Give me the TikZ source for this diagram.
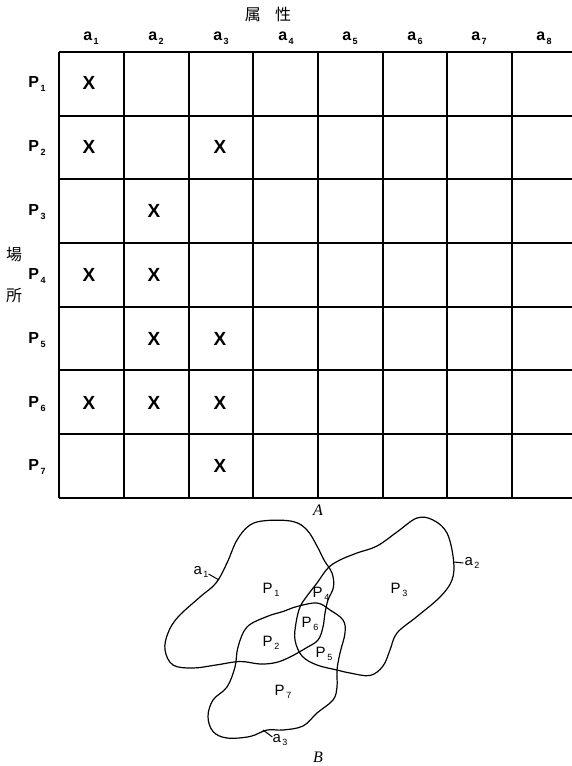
\documentclass[tikz,border=0pt]{standalone}
\usepackage{fontspec}
\setmainfont{Liberation Sans}
\newfontfamily\cjk{Noto Sans CJK JP}
\newfontfamily\serifit{Liberation Serif}
\newcommand\lsub[1]{\kern1.5pt\raisebox{-0.45ex}{\fontsize{9}{9}\selectfont #1}}
\begin{document}
\begin{tikzpicture}[x=1pt,y=-1pt,
  gridline/.style={line width=1.1pt},
  blob/.style={line width=1.2pt, smooth cycle, tension=0.6},
  collab/.style={font=\fontsize{16}{16}\selectfont\bfseries, inner sep=0pt},
  rowlab/.style={font=\fontsize{16}{16}\selectfont\bfseries, inner sep=0pt},
  xmark/.style={font=\fontsize{19}{19}\selectfont\bfseries, inner sep=0pt},
  plab/.style={font=\fontsize{15}{15}\selectfont, inner sep=0pt},
  cjklab/.style={font=\cjk\fontsize{16}{16}\selectfont, inner sep=0pt},
  figlab/.style={font=\serifit\itshape\fontsize{16}{16}\selectfont, inner sep=0pt}
]
\useasboundingbox (0,0) rectangle (572,766);
% header
\node[cjklab] (attr) at (268,14) {属\hspace{0.9em}性};
\node[cjklab] (plc1) at (14,255) {場};
\node[cjklab] (plc2) at (14,296) {所};
% grid
\foreach \y in {52,116,179,243,307,370,434,498}
  \draw[gridline] (59,\y) -- (572,\y);
\foreach \x in {59,124,189,253,318,383,447,512}
  \draw[gridline] (\x,52) -- (\x,498);
% column labels
\foreach \i/\x in {1/91,2/156,3/221,4/286,5/350,6/415,7/479,8/544}
  \node[collab] (col\i) at (\x,38) {a\lsub{\i}};
% row labels
\foreach \i/\y in {1/84,2/148,3/212,4/276,5/340,6/404,7/467}
  \node[rowlab] (row\i) at (37,\y) {P\lsub{\i}};
% marks
\foreach \n/\x/\y in {m11/89/83, m21/89/147, m23/220/147, m32/154/211,
  m41/89/275, m42/154/275, m52/154/339, m53/220/339,
  m61/89/403, m62/154/403, m63/220/403, m73/220/466}
  \node[xmark] (\n) at (\x,\y) {X};
\node[figlab] (figA) at (318,510) {A};
% blobs
\draw[blob] plot coordinates {(250,525) (267,520.5) (293,521.5) (307,530) (317,546) (324,560) (332,573) (333.5,587) (328,600) (325,613) (323,627) (318,640) (306,648) (290,657) (276,662.5) (260,664) (240,661.5) (216,665) (193,668) (173,665) (165,650) (168,633) (178,617) (200,597) (216,583) (227,563) (237,540)};
\draw[blob] plot coordinates {(317,583) (307,596) (300,607) (296,623) (295,640) (302,656) (317,665) (337,670) (350,673) (370,675.5) (383,666) (390,650) (397,633) (417,616.5) (440,597) (452,580) (453.5,560) (447,533) (433,520) (417,518) (397,532) (377,546) (357,553) (340,560) (328,568)};
\draw[blob] plot coordinates {(297,606.5) (317,603) (330,610) (343,620) (345,633) (340,653) (337,670) (337,687) (333,700) (317,713) (303,726) (283,730) (267,730) (250,736.5) (227,738) (213,731.5) (208,716.5) (213,700) (227,687) (235,667) (238,647) (247,627) (267,616.5) (283,611.5)};
% blob labels
\node[plab] (b1) at (201,572) {a\lsub{1}};
\coordinate (t1) at (219,580);
\draw[line width=1pt] (b1.east) ++(0,2) -- (t1);
\node[plab] (b2) at (472,563) {a\lsub{2}};
\coordinate (t2) at (454,562);
\draw[line width=1pt] (b2.west) ++(-1,0) -- (t2);
\node[plab] (b3) at (280,740) {a\lsub{3}};
\coordinate (t3) at (263,730);
\draw[line width=1pt] (b3.west) ++(0,-3) -- (t3);
\node[plab] (p1) at (271,590) {P\lsub{1}};
\node[plab] (p3) at (399,590) {P\lsub{3}};
\node[plab] (p4) at (321,594) {P\lsub{4}};
\node[plab] (p6) at (310,624) {P\lsub{6}};
\node[plab] (p2) at (271,643) {P\lsub{2}};
\node[plab] (p5) at (324,654) {P\lsub{5}};
\node[plab] (p7) at (283,692) {P\lsub{7}};
\node[figlab] (figB) at (318,757) {B};
\end{tikzpicture}
\end{document}
